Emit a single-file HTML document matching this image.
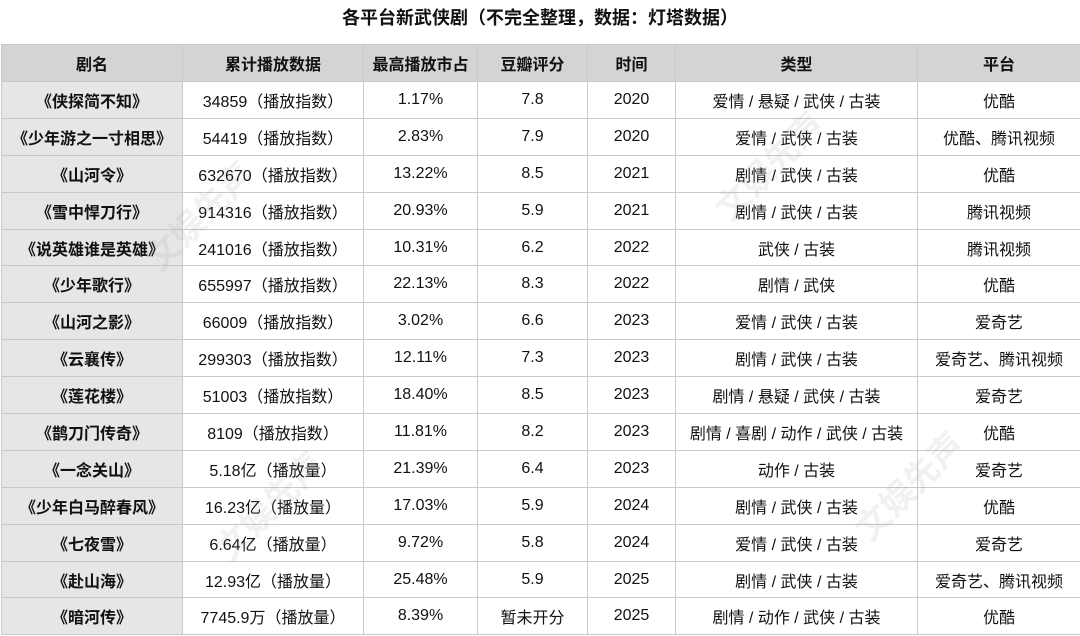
<!DOCTYPE html>
<html><head><meta charset="utf-8"><style>
body{margin:0;width:1080px;height:636px;background:#fff;font-family:"Liberation Sans","Noto Sans CJK SC",sans-serif;overflow:hidden;position:relative}
.t{position:absolute;top:5px;left:0;width:1080px;text-align:center;font-size:18px;font-weight:bold;color:#111;line-height:26px}
table{position:absolute;top:44px;left:1px;border-collapse:collapse;table-layout:fixed;width:1079px}
td,th{border:1px solid #c9c9c9;height:35.9px;padding:0;text-align:center;font-size:16px;color:#111;white-space:nowrap}
th{background:#d4d4d4;font-weight:bold;height:36px}
td:first-child{background:#e6e6e6;font-weight:bold}
.w{position:absolute;font-size:34px;font-weight:bold;color:rgba(150,150,150,0.13);transform:rotate(-45deg);pointer-events:none}
</style></head><body>
<div class="t">各平台新武侠剧（不完全整理，数据：灯塔数据）</div>
<table>
<colgroup><col style="width:181px"><col style="width:181px"><col style="width:114px"><col style="width:110px"><col style="width:88px"><col style="width:242px"><col style="width:163px"></colgroup>
<tr><th>剧名</th><th>累计播放数据</th><th>最高播放市占</th><th>豆瓣评分</th><th>时间</th><th>类型</th><th>平台</th></tr>
<tr><td>《侠探简不知》</td><td>34859（播放指数）</td><td>1.17%</td><td>7.8</td><td>2020</td><td>爱情 / 悬疑 / 武侠 / 古装</td><td>优酷</td></tr>
<tr><td>《少年游之一寸相思》</td><td>54419（播放指数）</td><td>2.83%</td><td>7.9</td><td>2020</td><td>爱情 / 武侠 / 古装</td><td>优酷、腾讯视频</td></tr>
<tr><td>《山河令》</td><td>632670（播放指数）</td><td>13.22%</td><td>8.5</td><td>2021</td><td>剧情 / 武侠 / 古装</td><td>优酷</td></tr>
<tr><td>《雪中悍刀行》</td><td>914316（播放指数）</td><td>20.93%</td><td>5.9</td><td>2021</td><td>剧情 / 武侠 / 古装</td><td>腾讯视频</td></tr>
<tr><td>《说英雄谁是英雄》</td><td>241016（播放指数）</td><td>10.31%</td><td>6.2</td><td>2022</td><td>武侠 / 古装</td><td>腾讯视频</td></tr>
<tr><td>《少年歌行》</td><td>655997（播放指数）</td><td>22.13%</td><td>8.3</td><td>2022</td><td>剧情 / 武侠</td><td>优酷</td></tr>
<tr><td>《山河之影》</td><td>66009（播放指数）</td><td>3.02%</td><td>6.6</td><td>2023</td><td>爱情 / 武侠 / 古装</td><td>爱奇艺</td></tr>
<tr><td>《云襄传》</td><td>299303（播放指数）</td><td>12.11%</td><td>7.3</td><td>2023</td><td>剧情 / 武侠 / 古装</td><td>爱奇艺、腾讯视频</td></tr>
<tr><td>《莲花楼》</td><td>51003（播放指数）</td><td>18.40%</td><td>8.5</td><td>2023</td><td>剧情 / 悬疑 / 武侠 / 古装</td><td>爱奇艺</td></tr>
<tr><td>《鹊刀门传奇》</td><td>8109（播放指数）</td><td>11.81%</td><td>8.2</td><td>2023</td><td>剧情 / 喜剧 / 动作 / 武侠 / 古装</td><td>优酷</td></tr>
<tr><td>《一念关山》</td><td>5.18亿（播放量）</td><td>21.39%</td><td>6.4</td><td>2023</td><td>动作 / 古装</td><td>爱奇艺</td></tr>
<tr><td>《少年白马醉春风》</td><td>16.23亿（播放量）</td><td>17.03%</td><td>5.9</td><td>2024</td><td>剧情 / 武侠 / 古装</td><td>优酷</td></tr>
<tr><td>《七夜雪》</td><td>6.64亿（播放量）</td><td>9.72%</td><td>5.8</td><td>2024</td><td>爱情 / 武侠 / 古装</td><td>爱奇艺</td></tr>
<tr><td>《赴山海》</td><td>12.93亿（播放量）</td><td>25.48%</td><td>5.9</td><td>2025</td><td>剧情 / 武侠 / 古装</td><td>爱奇艺、腾讯视频</td></tr>
<tr><td>《暗河传》</td><td>7745.9万（播放量）</td><td>8.39%</td><td>暂未开分</td><td>2025</td><td>剧情 / 动作 / 武侠 / 古装</td><td>优酷</td></tr>
</table>
<div class="w" style="left:130px;top:190px">文娱先声</div>
<div class="w" style="left:700px;top:140px">文娱先声</div>
<div class="w" style="left:200px;top:480px">文娱先声</div>
<div class="w" style="left:840px;top:460px">文娱先声</div>
</body></html>
